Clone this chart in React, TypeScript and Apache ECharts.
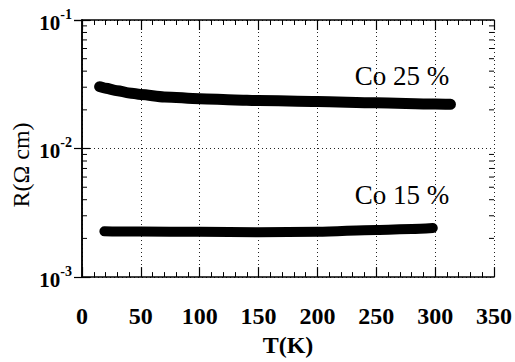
import React, { useEffect, useRef } from "react";
import * as echarts from "echarts";

const T25 = [15, 20, 30, 40, 50, 70, 100, 130, 150, 200, 250, 300, 313];
const R25 = [0.0303, 0.0295, 0.0282, 0.0271, 0.0263, 0.0252, 0.0244, 0.0239, 0.0236, 0.0232, 0.0227, 0.0222, 0.0221];
const T15 = [19, 30, 50, 100, 150, 200, 250, 280, 298];
const R15 = [0.00227, 0.00226, 0.00226, 0.00225, 0.00223, 0.00225, 0.00233, 0.00237, 0.00241];
const minorY = [0.002, 0.003, 0.004, 0.005, 0.006, 0.007, 0.008, 0.009, 0.02, 0.03, 0.04, 0.05, 0.06, 0.07, 0.08, 0.09];
const labels = ["Co 25 %", "Co 15 %"];
const xName = "T(K)";
const yName = "R(\u03a9 cm)";

const FONT = "Liberation Serif";

export default function App() {
  const ref = useRef<HTMLDivElement>(null);
  useEffect(() => {
    if (!ref.current) return;
    const chart = echarts.init(ref.current, null, { renderer: "svg" });
    const xCommon = {
      type: "value",
      min: 0,
      max: 350,
      interval: 50,
      axisLine: { show: true, lineStyle: { color: "#000", width: 1.5 } },
      axisTick: { show: true, inside: true, length: 10, lineStyle: { color: "#000", width: 1.2 } },
      minorTick: { show: true, splitNumber: 5, length: 5, lineStyle: { color: "#000", width: 1 } },
    };
    const yCommon = {
      type: "log",
      logBase: 10,
      min: 0.001,
      max: 0.1,
      axisLine: { show: true, lineStyle: { color: "#000", width: 1.5 } },
      axisTick: { show: true, inside: true, length: 8, lineStyle: { color: "#000", width: 1.2 } },
    };
    chart.setOption({
      animation: false,
      backgroundColor: "#fff",
      grid: { left: 82, right: 21, top: 20, bottom: 76 },
      xAxis: [
        {
          ...xCommon,
          position: "bottom",
          name: xName,
          nameLocation: "middle",
          nameGap: 50,
          nameTextStyle: { fontFamily: FONT, fontWeight: "bold", fontSize: 24, color: "#000" },
          axisLabel: { margin: 27, fontFamily: FONT, fontWeight: "bold", fontSize: 24, color: "#000" },
          splitLine: { show: true, lineStyle: { color: "#222", type: [1, 3], width: 1 } },
        },
        {
          ...xCommon,
          position: "top",
          axisLabel: { show: false },
          splitLine: { show: false },
        },
      ],
      yAxis: [
        {
          ...yCommon,
          position: "left",
          axisLabel: {
            margin: 10,
            formatter: (v: number) => `{b|10}{s|${Math.round(Math.log10(v))}}`,
            rich: {
              b: { fontFamily: FONT, fontWeight: "bold", fontSize: 21, color: "#000", lineHeight: 26, verticalAlign: "bottom" },
              s: { fontFamily: FONT, fontWeight: "bold", fontSize: 14, color: "#000", lineHeight: 14, verticalAlign: "top" },
            },
          },
          splitLine: { show: true, lineStyle: { color: "#222", type: [1, 3], width: 1 } },
        },
        {
          ...yCommon,
          position: "right",
          axisLabel: { show: false },
          splitLine: { show: false },
        },
      ],
      graphic: [
        {
          type: "text",
          x: 21,
          y: 165,
          rotation: Math.PI / 2,
          style: { text: yName, fontFamily: FONT, fontSize: 24, fill: "#000", align: "center", verticalAlign: "middle" },
        },
        {
          type: "text",
          x: 402,
          y: 76,
          style: { text: labels[0], fontFamily: FONT, fontSize: 27, fill: "#000", align: "center", verticalAlign: "middle" },
        },
        {
          type: "text",
          x: 402,
          y: 195,
          style: { text: labels[1], fontFamily: FONT, fontSize: 27, fill: "#000", align: "center", verticalAlign: "middle" },
        },
      ],
      series: [
        {
          type: "line",
          name: labels[0],
          data: T25.map((t, i) => [t, R25[i]]),
          smooth: 0.3,
          smoothMonotone: "x",
          showSymbol: false,
          lineStyle: { color: "#000", width: 11, cap: "round", join: "round" },
        },
        {
          type: "line",
          name: labels[1],
          data: T15.map((t, i) => [t, R15[i]]),
          smooth: 0.3,
          smoothMonotone: "x",
          showSymbol: false,
          lineStyle: { color: "#000", width: 10, cap: "round", join: "round" },
        },
        {
          type: "custom",
          silent: true,
          clip: false,
          data: minorY.map((v) => [0, v]),
          renderItem: (_p: any, api: any) => {
            const v = api.value(1);
            const pl = api.coord([0, v]);
            const pr = api.coord([350, v]);
            return {
              type: "group",
              children: [
                { type: "line", shape: { x1: pl[0], y1: pl[1], x2: pl[0] + 5, y2: pl[1] }, style: { stroke: "#000", lineWidth: 1 } },
                { type: "line", shape: { x1: pr[0] - 5, y1: pr[1], x2: pr[0], y2: pr[1] }, style: { stroke: "#000", lineWidth: 1 } },
              ],
            };
          },
        },
      ],
    });
    return () => chart.dispose();
  }, []);
  return <div ref={ref} style={{ position: "fixed", left: 0, top: 0, width: 515, height: 362 }} />;
}
